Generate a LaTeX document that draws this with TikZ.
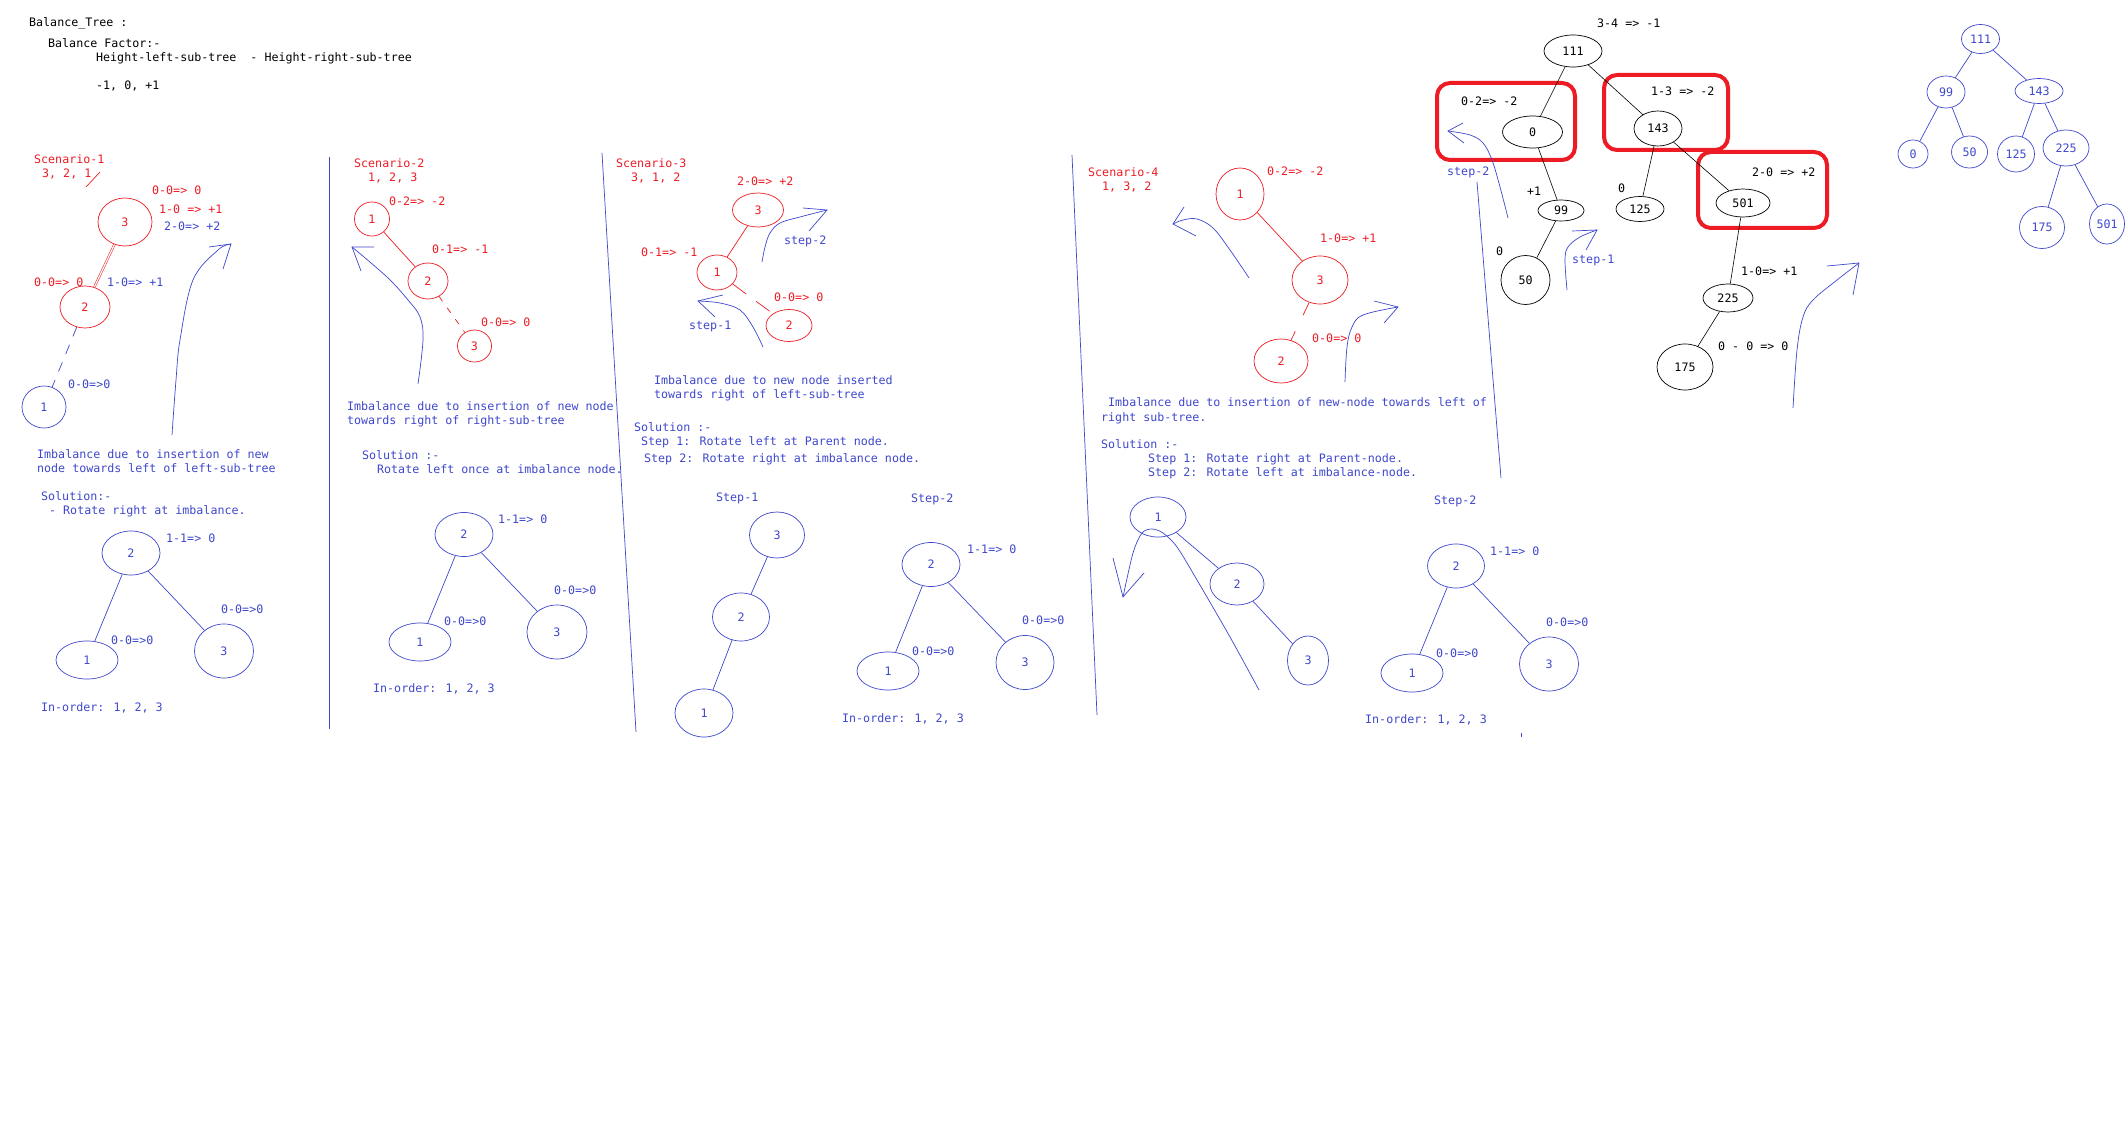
\documentclass[tikz,border=0pt]{standalone}
\usepackage{fontspec}
\usetikzlibrary{shapes.geometric}
\newfontfamily\monofnt{DejaVu Sans Mono}
\newcommand\mytf{\monofnt\fontsize{11.65pt}{14pt}\selectfont}
\definecolor{lblue}{RGB}{63,72,204}
\definecolor{lred}{RGB}{237,28,36}
\tikzset{
  txt/.style={anchor=west, inner sep=0pt, text height=8pt, text depth=0pt, font=\mytf},
  bt/.style={txt, text=lblue},
  rt/.style={txt, text=lred},
  kt/.style={txt, text=black},
  nd/.style={draw, ellipse, inner sep=0pt, font=\mytf, line width=0.7pt},
  sz/.style 2 args={minimum width=#1, minimum height=#2},
  bn/.style={nd, draw=lblue, text=lblue},
  rn/.style={nd, draw=lred, text=lred},
  kn/.style={nd, draw=black, text=black},
  bl/.style={draw=lblue, line width=0.7pt},
  rl/.style={draw=lred, line width=0.7pt},
  kl/.style={draw=black, line width=0.6pt},
  redbox/.style={draw=lred, line width=4pt, rounded corners=13pt},
  arr/.style={draw=lblue, line width=0.7pt},
}
\begin{document}
\begin{tikzpicture}[x=1pt, y=-1pt]
\fill[white] (0,0) rectangle (2126,1126);
\useasboundingbox (0,0) rectangle (2126,1126);

% ---------- header ----------
\node[kt] (h1) at (29,23) {Balance\_Tree :};
\node[kt] (h2) at (48,44) {Balance Factor:-};
\node[kt] (h3) at (96,58) {Height-left-sub-tree~~- Height-right-sub-tree};
\node[kt] (h4) at (96,86) {-1, 0, +1};

% ---------- dividers ----------
\draw[bl] (329,157) -- (329,729);
\draw[bl] (602,153) -- (636,732);
\draw[bl] (1072,155) -- (1097,715);
\draw[bl] (1477,182) -- (1501,478);

% ---------- Scenario 1 ----------
\node[rt] (s1t1) at (34,160) {Scenario-1};
\node[rt] (s1t2) at (42,174) {3, 2, 1};
\draw[rl] (86,187) -- (100,172);
\node[rn, sz={54}{48}] (s1a) at (125,222) {3};
\node[rn, sz={50}{42}] (s1b) at (85,307) {2};
\node[bn, sz={44}{42}] (s1c) at (44,407) {1};
\draw[draw=lred, double=white, double distance=1.2pt, line width=0.5pt] (s1a) -- (s1b);
\draw[bl, dash pattern=on 10pt off 9pt] (s1b) -- (s1c);
\node[rt] (s1l1) at (152,191) {0-0=> 0};
\node[rt] (s1l2) at (159,210) {1-0 => +1};
\node[bt] (s1l3) at (164,227) {2-0=> +2};
\node[rt] (s1l4) at (34,282) {0-0=> 0};
\node[bt] (s1l5) at (107,282) {1-0=> +1};
\node[bt] (s1l6) at (68,384) {0-0=>0};
\coordinate (t1) at (231,244);
\draw[arr] plot[smooth, tension=0.6] coordinates {(172,435) (176,380) (180,340) (193,280) (218,250) (t1)};
\draw[arr] (209,247) -- (t1) -- (223,269);
\node[bt] (s1i1) at (37,454) {Imbalance due to insertion of new};
\node[bt] (s1i2) at (37,468) {node towards left of left-sub-tree};
\node[bt] (s1i3) at (41,496) {Solution:-};
\node[bt] (s1i4) at (49,510) {- Rotate right at imbalance.};
\node[bn, sz={58}{44}] (s1d) at (131,553) {2};
\node[bn, sz={62}{38}] (s1e) at (87,660) {1};
\node[bn, sz={59}{54}] (s1f) at (224,651) {3};
\draw[bl] (s1d) -- (s1e);
\draw[bl] (s1d) -- (s1f);
\node[bt] (s1l7) at (166,538) {1-1=> 0};
\node[bt] (s1l8) at (221,609) {0-0=>0};
\node[bt] (s1l9) at (111,640) {0-0=>0};
\node[bt] (s1io) at (41,707) {In-order: 1, 2, 3};

% ---------- Scenario 2 ----------
\node[rt] (s2t1) at (354,164) {Scenario-2};
\node[rt] (s2t2) at (368,178) {1, 2, 3};
\node[rn, sz={35}{34}] (s2a) at (372,219) {1};
\node[rn, sz={40}{36}] (s2b) at (428,281) {2};
\node[rn, sz={34}{32}] (s2c) at (474.5,346) {3};
\draw[rl] (s2a) -- (s2b);
\draw[rl, dash pattern=on 6pt off 8pt] (s2b) -- (s2c);
\node[rt] (s2l1) at (389,202) {0-2=> -2};
\node[rt] (s2l2) at (432,250) {0-1=> -1};
\node[rt] (s2l3) at (481,322) {0-0=> 0};
\coordinate (t2) at (352,247);
\draw[arr] plot[smooth, tension=0.6] coordinates {(418,384) (423,340) (420,317) (408,300) (387,277) (t2)};
\draw[arr] (374,247) -- (t2) -- (361,271);
\node[bt] (s2i1) at (347,406) {Imbalance due to insertion of new node};
\node[bt] (s2i2) at (347,420) {towards right of right-sub-tree};
\node[bt] (s2i3) at (362,455) {Solution :-};
\node[bt] (s2i4) at (377,469) {Rotate left once at imbalance node.};
\node[bn, sz={58}{44}] (s2d) at (464,534.5) {2};
\node[bn, sz={62}{38}] (s2e) at (420,642) {1};
\node[bn, sz={60}{54}] (s2f) at (557,632) {3};
\draw[bl] (s2d) -- (s2e);
\draw[bl] (s2d) -- (s2f);
\node[bt] (s2l4) at (498,519) {1-1=> 0};
\node[bt] (s2l5) at (554,590) {0-0=>0};
\node[bt] (s2l6) at (444,621) {0-0=>0};
\node[bt] (s2io) at (373,688) {In-order: 1, 2, 3};

% ---------- Scenario 3 ----------
\node[rt] (s3t1) at (616,164) {Scenario-3};
\node[rt] (s3t2) at (631,178) {3, 1, 2};
\node[rn, sz={51}{34}] (s3a) at (758,210) {3};
\node[rn, sz={40}{35}] (s3b) at (717,272.5) {1};
\node[rn, sz={46}{32}] (s3c) at (789,325.5) {2};
\draw[rl] (s3a) -- (s3b);
\draw[rl, dash pattern=on 17pt off 12pt] (s3b) -- (s3c);
\node[rt] (s3l1) at (737,182) {2-0=> +2};
\node[rt] (s3l2) at (641,253) {0-1=> -1};
\node[rt] (s3l3) at (774,297) {0-0=> 0};
\coordinate (t3) at (827,210);
\draw[arr] plot[smooth, tension=0.6] coordinates {(762,262) (765,247) (770,233) (780,223) (800,217) (t3)};
\draw[arr] (803,208) -- (t3) -- (809,231);
\node[bt] (s3s2) at (784,240) {step-2};
\coordinate (t4) at (698,301);
\draw[arr] plot[smooth, tension=0.6] coordinates {(763,347) (753,327) (740,310) (720,303) (t4)};
\draw[arr] (723,295) -- (t4) -- (715,317);
\node[bt] (s3s1) at (689,325) {step-1};
\node[bt] (s3i1) at (654,380) {Imbalance due to new node inserted};
\node[bt] (s3i2) at (654,394) {towards right of left-sub-tree};
\node[bt] (s3i3) at (634,427) {Solution :-};
\node[bt] (s3i4) at (641,441) {Step 1: Rotate left at Parent node.};
\node[bt] (s3i5) at (644,458) {Step 2: Rotate right at imbalance node.};
\node[bt] (s3st1) at (716,497) {Step-1};
\node[bn, sz={55}{46}] (s3d) at (777,535) {3};
\node[bn, sz={57}{48}] (s3e) at (741,617) {2};
\node[bn, sz={58}{48}] (s3f) at (704,713) {1};
\draw[bl] (s3d) -- (s3e);
\draw[bl] (s3e) -- (s3f);
\node[bt] (s3st2) at (911,498) {Step-2};
\node[bn, sz={58}{44}] (s3g) at (931,564.5) {2};
\node[bn, sz={62}{38}] (s3h) at (888,671) {1};
\node[bn, sz={58}{54}] (s3i) at (1025,662.5) {3};
\draw[bl] (s3g) -- (s3h);
\draw[bl] (s3g) -- (s3i);
\node[bt] (s3l4) at (967,549) {1-1=> 0};
\node[bt] (s3l5) at (1022,620) {0-0=>0};
\node[bt] (s3l6) at (912,651) {0-0=>0};
\node[bt] (s3io) at (842,718) {In-order: 1, 2, 3};

% ---------- Scenario 4 ----------
\node[rt] (s4t1) at (1088,173) {Scenario-4};
\node[rt] (s4t2) at (1102,187) {1, 3, 2};
\node[rn, sz={48}{52}] (s4a) at (1240,194) {1};
\node[rn, sz={56}{48}] (s4b) at (1320,280) {3};
\node[rn, sz={54}{44}] (s4c) at (1281,361) {2};
\draw[rl] (s4a) -- (s4b);
\draw[rl, dash pattern=on 14pt off 18pt] (s4b) -- (s4c);
\node[rt] (s4l1) at (1267,172) {0-2=> -2};
\node[rt] (s4l2) at (1320,239) {1-0=> +1};
\node[rt] (s4l3) at (1312,338) {0-0=> 0};
\coordinate (t5) at (1173,224);
\draw[arr] plot[smooth, tension=0.6] coordinates {(1249,278) (1230,250) (1213,228) (1197,219) (1183,220) (t5)};
\draw[arr] (1184,207) -- (t5) -- (1196,236);
\coordinate (t6) at (1398,307);
\draw[arr] plot[smooth, tension=0.6] coordinates {(1345,382) (1347,347) (1352,327) (1363,315) (t6)};
\draw[arr] (1374,301) -- (t6) -- (1384,323);
\node[bt] (s4i1) at (1108,402) {Imbalance due to insertion of new-node towards left of};
\node[bt] (s4i2) at (1101,417) {right sub-tree.};
\node[bt] (s4i3) at (1101,444) {Solution :-};
\node[bt] (s4i4) at (1148,458) {Step 1: Rotate right at Parent-node.};
\node[bt] (s4i5) at (1148,472) {Step 2: Rotate left at imbalance-node.};
\node[bn, sz={56}{40}] (s4d) at (1158,517) {1};
\node[bn, sz={54}{42}] (s4e) at (1237,584) {2};
\node[bn, sz={41}{49}] (s4f) at (1308,660.5) {3};
\draw[bl] (s4d) -- (s4e);
\draw[bl] (s4e) -- (s4f);
\coordinate (t7) at (1123,597);
\draw[arr] plot[smooth, tension=0.5] coordinates {(1259,690) (1230,637) (1197,580) (1177,547) (1163,533) (1152,529) (1142,533) (1133,553) (t7)};
\draw[arr] (1113,558) -- (t7) -- (1144,573);
\node[bt] (s4st2) at (1434,500) {Step-2};
\node[bn, sz={57}{44}] (s4g) at (1456,566) {2};
\node[bn, sz={62}{38}] (s4h) at (1412,673) {1};
\node[bn, sz={59}{54}] (s4i) at (1549,664) {3};
\draw[bl] (s4g) -- (s4h);
\draw[bl] (s4g) -- (s4i);
\node[bt] (s4l4) at (1490,551) {1-1=> 0};
\node[bt] (s4l5) at (1546,622) {0-0=>0};
\node[bt] (s4l6) at (1436,653) {0-0=>0};
\node[bt] (s4io) at (1365,719) {In-order: 1, 2, 3};
\draw[bl] (1521,733) -- (1521,737);

% ---------- black tree ----------
\draw[redbox] (1437,83) rectangle (1575,160);
\draw[redbox] (1604,75) rectangle (1728,150);
\draw[redbox] (1698,152) rectangle (1827,228);
\node[kn, sz={58}{32}] (k111) at (1573,51) {111};
\node[kn, sz={60}{32}] (k0) at (1532.5,132) {0};
\node[kn, sz={48}{35}] (k143) at (1658,128.5) {143};
\node[kn, sz={54}{28}] (k501) at (1743,203) {501};
\node[kn, sz={46}{21}] (k99) at (1561,210.5) {99};
\node[kn, sz={48}{25}] (k125) at (1640,209) {125};
\node[kn, sz={49}{49}] (k50) at (1525.5,280) {50};
\node[kn, sz={50}{28}] (k225) at (1728,298) {225};
\node[kn, sz={56}{46}] (k175) at (1685,367) {175};
\draw[kl] (k111) -- (k0);
\draw[kl] (k111) -- (k143);
\draw[kl] (k0) -- (k99);
\draw[kl] (k99) -- (k50);
\draw[kl] (k143) -- (k125);
\draw[kl] (k143) -- (k501);
\draw[kl] (k501) -- (k225);
\draw[kl] (k225) -- (k175);
\node[kt] (kl1) at (1597,24) {3-4 => -1};
\node[kt] (kl2) at (1461,102) {0-2=> -2};
\node[kt] (kl3) at (1651,92) {1-3 => -2};
\node[kt] (kl4) at (1752,173) {2-0 => +2};
\node[kt] (kl5) at (1527,192) {+1};
\node[kt] (kl6) at (1618,189) {0};
\node[kt] (kl7) at (1496,251) {0};
\node[kt] (kl8) at (1741,271) {1-0=> +1};
\node[kt] (kl9) at (1718,346) {0 - 0 => 0};
\coordinate (t8) at (1448,131);
\draw[arr] plot[smooth, tension=0.6] coordinates {(1508,218) (1500,187) (1492,160) (1483,143) (1470,135) (t8)};
\draw[arr] (1463,123) -- (t8) -- (1464,143);
\node[bt] (ks2) at (1447,172) {step-2};
\coordinate (t9) at (1597,230);
\draw[arr] plot[smooth, tension=0.6] coordinates {(1567,290) (1565,260) (1568,247) (1580,237) (t9)};
\draw[arr] (1572,231) -- (t9) -- (1586,250);
\node[bt] (ks1) at (1572,260) {step-1};
\coordinate (t10) at (1859,263);
\draw[arr] plot[smooth, tension=0.6] coordinates {(1793,408) (1797,350) (1803,317) (1813,300) (1837,280) (t10)};
\draw[arr] (1827,266) -- (t10) -- (1853,295);

% ---------- blue balanced tree ----------
\node[bn, sz={38}{29}] (b111) at (1980.5,39) {111};
\node[bn, sz={38}{32}] (b99) at (1946,92) {99};
\node[bn, sz={48}{25}] (b143) at (2039,91) {143};
\node[bn, sz={30}{28}] (b0) at (1913,154) {0};
\node[bn, sz={36}{32}] (b50) at (1969.5,152) {50};
\node[bn, sz={37}{36}] (b125) at (2016,154) {125};
\node[bn, sz={46}{36}] (b225) at (2066,148) {225};
\node[bn, sz={45}{42}] (b175) at (2042,227.5) {175};
\node[bn, sz={35}{40}] (b501) at (2107,224) {501};
\draw[bl] (b111) -- (b99);
\draw[bl] (b111) -- (b143);
\draw[bl] (b99) -- (b0);
\draw[bl] (b99) -- (b50);
\draw[bl] (b143) -- (b125);
\draw[bl] (b143) -- (b225);
\draw[bl] (b225) -- (b175);
\draw[bl] (b225) -- (b501);
\end{tikzpicture}
\end{document}
